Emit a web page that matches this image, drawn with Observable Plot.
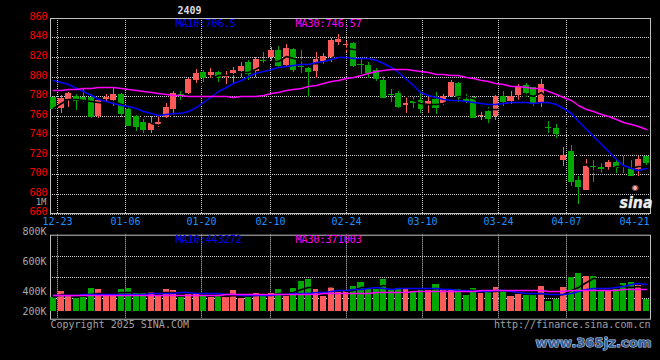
<!DOCTYPE html>
<html><head><meta charset="utf-8">
<script src="https://cdn.jsdelivr.net/npm/d3@7"></script>
<script src="https://cdn.jsdelivr.net/npm/@observablehq/plot@0.6"></script>
<style>
html,body{margin:0;padding:0;background:#000;}
#wrap{position:relative;width:660px;height:360px;background:#000;overflow:hidden;}
#wrap svg{position:absolute;left:0;overflow:visible;}
</style></head><body><div id="wrap"></div>
<script>
// ---- data ----
const opens  = [779.4,768.1,777.1,780.1,779.4,779.4,759.6,777.1,776.0,782.2,766.5,759.6,753.5,745.3,751.4,758.9,766.5,782.2,782.9,796.5,
                804.7,802.0,805.0,800.3,803.4,806.0,815.0,805.7,817.3,819.8,827.2,811.9,828.3,811.1,808.8,805.7,816.0,819.8,835.4,832.7,
                834.0,813.2,811.9,806.7,796.5,782.2,782.9,770.9,774.6,776.0,770.9,776.7,772.6,780.1,793.7,777.0,778.8,760.3,764.8,759.6,
                780.0,775.0,781.1,791.4,789.0,774.3,748.3,747.0,714.6,724.1,693.4,684.0,708.7,707.0,706.7,712.8,708.7,705.7,705.0,718.0];
const highs  = [780.5,781.5,784.0,782.0,787.0,781.9,777.1,781.9,788.6,783.0,769.2,760.7,756.3,759.6,759.6,772.6,785.6,785.6,798.5,807.8,
                806.7,808.5,806.0,805.9,810.1,814.6,816.5,820.2,825.5,830.6,831.3,833.5,828.9,827.2,810.0,825.2,824.0,839.3,843.7,836.8,
                835.8,818.0,814.6,809.0,801.6,787.3,785.0,778.8,778.8,785.6,778.8,784.5,782.5,796.5,794.8,782.2,779.5,764.0,769.2,781.0,
                785.2,785.2,792.4,793.1,789.7,797.5,754.5,751.4,727.6,730.0,698.2,715.3,714.6,711.2,713.9,715.3,718.0,714.6,718.0,718.5];
const lows   = [767.5,762.4,769.2,765.5,774.3,757.3,757.7,774.3,769.9,758.9,749.5,744.6,742.5,742.5,748.0,757.3,758.0,775.5,782.0,793.1,
                794.0,798.0,794.0,792.5,793.7,799.9,796.5,799.9,813.6,815.0,810.0,810.0,804.7,804.0,779.4,798.0,812.0,815.0,832.0,825.5,
                810.0,803.0,798.0,795.0,777.7,774.3,767.5,762.4,767.5,762.4,762.4,761.7,770.9,779.0,774.3,772.6,757.3,755.5,752.8,755.5,
                769.9,772.0,776.0,779.4,769.9,769.2,742.5,736.8,708.4,687.3,669.5,684.0,691.3,701.0,703.6,701.0,701.0,697.5,697.5,709.5];
const closes = [768.1,778.4,783.2,776.0,776.0,759.0,776.0,779.4,782.2,763.0,750.4,749.4,746.6,752.2,753.5,769.2,782.9,781.6,797.5,804.0,
                799.9,805.0,800.0,800.9,806.7,811.2,804.0,818.0,816.7,827.2,811.9,829.3,807.8,810.5,806.0,818.0,821.4,837.5,838.5,833.3,
                811.9,812.6,805.0,798.2,779.4,781.6,769.9,773.3,774.0,767.5,775.3,769.2,780.1,794.8,778.8,776.4,758.9,760.9,757.3,780.0,
                775.0,780.0,789.0,784.5,773.3,792.4,747.7,742.5,719.7,692.4,688.0,707.7,708.1,706.4,712.5,707.0,708.1,698.9,715.3,711.8];
const volumes = [235000,336000,264000,218000,235000,382000,364000,246000,246000,364000,382000,313000,291000,330000,246000,364000,347000,230000,319000,280000,
                 246000,230000,246000,235000,347000,218000,235000,302000,264000,302000,364000,246000,382000,499000,533000,364000,246000,415000,319000,347000,
                 415000,482000,392000,358000,533000,347000,375000,392000,330000,364000,347000,449000,347000,382000,382000,264000,382000,302000,319000,398000,
                 330000,246000,280000,258000,264000,415000,162000,196000,398000,566000,634000,583000,583000,347000,347000,369000,466000,482000,432000,196000];
const ma10 = [795.9,794.4,792.4,788.6,784.8,780.9,777.0,774.6,772.7,771.1,769.5,767.2,764.9,762.6,760.8,761.6,762.2,762.8,765.1,768.9,
              773.7,779.0,784.8,789.1,792.9,796.7,800.1,803.5,805.9,807.8,809.3,810.6,811.9,812.4,813.1,814.5,816.1,818.1,819.8,819.6,
              819.3,819.0,818.8,817.2,813.8,809.9,804.4,797.6,790.8,784.3,781.4,778.8,777.3,776.4,775.6,775.0,774.3,772.9,771.3,771.7,
              772.8,773.6,774.2,773.9,773.3,774.0,773.5,772.2,768.1,762.6,754.7,746.2,738.9,731.1,723.3,715.8,709.7,705.8,704.6,706.5];
const ma30 = [785.8,786.6,787.1,787.5,788.0,788.5,788.9,789.0,789.0,788.1,787.2,786.3,785.4,784.4,783.2,782.0,781.3,780.7,780.4,780.3,
              780.2,780.1,780.0,779.5,779.4,779.5,779.7,780.2,781.5,783.0,784.5,786.0,787.3,788.5,790.0,791.5,793.1,795.0,796.8,798.3,
              799.8,801.7,803.5,805.2,806.7,807.5,807.5,807.3,806.6,805.9,804.4,802.9,802.4,801.8,801.1,799.8,798.3,796.7,795.2,793.7,
              792.1,790.7,789.8,788.9,788.4,787.7,784.9,782.0,779.1,775.6,771.1,766.6,764.2,761.9,759.1,756.5,753.6,751.2,749.2,746.6];
const volMa10 = [262000,262000,265000,270000,278000,280000,281000,281000,282000,282000,283000,285000,288000,292000,298000,303000,305000,306000,306000,305000,
                 303000,300000,294000,287000,278000,268000,262000,263000,267000,271000,276000,285000,292000,300000,305000,308000,312000,330000,340000,350000,
                 358000,368000,388000,392000,375000,370000,376000,380000,382000,382000,380000,374000,364000,358000,352000,342000,337000,336000,338000,345000,
                 347000,328000,308000,302000,300000,290000,282000,281000,284000,300000,334000,360000,374000,377000,380000,392000,410000,455000,465000,443000];
const volMa30 = [258000,258000,259000,259000,259000,260000,260000,260000,260000,260000,261000,261000,261000,261000,261000,262000,262000,262000,262000,263000,
                 264000,266000,270000,274000,277000,278000,278000,279000,280000,280000,281000,281000,282000,283000,285000,287000,289000,291000,293000,295000,
                 298000,301000,305000,309000,313000,316000,319000,321000,323000,325000,327000,329000,332000,334000,336000,337000,338000,340000,342000,345000,
                 346000,347000,347000,346000,344000,341000,339000,338000,338000,340000,342000,344000,345000,346000,348000,352000,358000,364000,369000,371000];

const priceTicks = [860,840,820,800,780,760,740,720,700,680,660];
const dateLabels = ["12-23","01-06","01-20","02-10","02-24","03-10","03-24","04-07","04-21"];
const datePos    = [0.97,10.04,20.17,29.33,39.47,49.6,59.77,68.8,77.87];
const volTickLabels = ["200K","400K","600K","800K"];
const volTickPos    = [0,336000,840000,1344000];
const titleText = "2409";
const priceMaLabels = ["MA10:706.5","MA30:746.57"];
const volMaLabels   = ["MA10:443272","MA30:371003"];

// ---- build ----
const UP = "#ff5a5a", DOWN = "#00a800", GRID = "#d0d0d0", BORDER = "#c0c0c0";
const MONO = "'DejaVu Sans Mono', monospace";
const candles = closes.map((c, i) => ({
  i, open: opens[i], high: highs[i], low: lows[i], close: c, vol: volumes[i],
  ma10: ma10[i], ma30: ma30[i], vma10: volMa10[i], vma30: volMa30[i],
  color: c >= opens[i] ? UP : DOWN
}));
const dotted = {stroke: GRID, strokeDasharray: "1,1"};
const xOf = d => d.i + 0.4;

const main = Plot.plot({
  width: 660, height: 230,
  marginLeft: 50, marginRight: 10, marginTop: 18, marginBottom: 17,
  style: {background: "none", fontFamily: MONO, fontSize: "10px", color: "#ccc"},
  x: {domain: [0, 80], round: true, axis: null},
  y: {domain: [660, 860], round: true, axis: null},
  color: {type: "identity"},
  marks: [
    Plot.ruleY(priceTicks.slice(1, -1), dotted),
    Plot.ruleX(datePos.slice(0, 8), dotted),
    Plot.frame({stroke: BORDER}),
    Plot.ruleY([660], {stroke: "#aaa", dy: 1, strokeDasharray: "1,1"}),
    Plot.axisY({ticks: priceTicks, tickSize: 0, tickPadding: 3, fill: "#ff0000", dy: -2, label: null, tickFormat: d => String(d)}),
    Plot.axisX({ticks: datePos, tickSize: 0, tickPadding: 4, fill: "#1e90ff", label: null, tickFormat: d => dateLabels[datePos.indexOf(d)]}),
    Plot.text(["1M"], {frameAnchor: "bottom-left", lineAnchor: "top", textAnchor: "end", dx: -4, dy: -15, fontSize: 9, fill: "#a8a8a8"}),
    Plot.ruleX(candles, {x: xOf, y1: "low", y2: "high", stroke: "color"}),
    Plot.rect(candles, {x1: d => d.i, x2: d => d.i + 0.8, y1: "open", y2: "close", fill: "color"}),
    Plot.ruleY(candles, {y: "close", x1: d => d.i, x2: d => d.i + 0.8, stroke: "color"}),
    Plot.line(candles, Plot.windowY({k: 5, anchor: "end"}, {x: xOf, y: "close", stroke: "#000"})),
    Plot.line(candles, {x: xOf, y: "ma10", stroke: "#0000ff"}),
    Plot.line(candles, {x: xOf, y: "ma30", stroke: "#ff00ff"}),
    Plot.text(["sina"], {frameAnchor: "bottom-right", lineAnchor: "bottom", textAnchor: "end", dx: 2, dy: -6, fontSize: 15, fontWeight: "bold", fontStyle: "italic", fontFamily: "'DejaVu Sans', sans-serif", fill: "#eeeeee", stroke: "#888", strokeWidth: 0.6, paintOrder: "stroke", className: "sinalogo"}),
    Plot.text(["\u25C9"], {frameAnchor: "bottom-right", lineAnchor: "bottom", textAnchor: "end", dx: -12, dy: -24, fontSize: 8, fontFamily: "'DejaVu Sans', sans-serif", fill: "#ffb0b0"}),
    Plot.text([titleText], {frameAnchor: "top-left", lineAnchor: "top", textAnchor: "start", dx: 127, dy: -11.3, fill: "#dcdcdc", fontWeight: "bold"}),
    Plot.text([priceMaLabels[0]], {frameAnchor: "top-left", lineAnchor: "top", textAnchor: "start", dx: 125, dy: 1.3, fill: "#0000ff"}),
    Plot.text([priceMaLabels[1]], {frameAnchor: "top-left", lineAnchor: "top", textAnchor: "start", dx: 245, dy: 1.3, fill: "#ff00ff"})
  ]
});

const vDomain = [-134400, 1276800];
const vSpan = vDomain[1] - vDomain[0];
const volGrid = [1, 2, 3].map(k => vDomain[0] + vSpan * k / 4);
const volTicks = volTickLabels.map((label, k) => ({label, pos: volTickPos[k]}));

const vol = Plot.plot({
  width: 660, height: 140,
  marginLeft: 50, marginRight: 10, marginTop: 14.7, marginBottom: 41.3,
  style: {background: "none", fontFamily: MONO, fontSize: "10px", color: "#ccc"},
  x: {domain: [0, 80], round: true, axis: null},
  y: {domain: vDomain, round: true, axis: null},
  color: {type: "identity"},
  marks: [
    Plot.ruleY(volGrid, dotted),
    Plot.ruleX(datePos.slice(0, 8), dotted),
    Plot.frame({stroke: BORDER}),
    Plot.rect(candles, {x1: d => d.i, x2: d => d.i + 0.8, y1: 0, y2: "vol", fill: "color"}),
    Plot.line(candles, Plot.windowY({k: 5, anchor: "end"}, {x: xOf, y: "vol", stroke: "#000"})),
    Plot.line(candles, {x: xOf, y: "vma10", stroke: "#0000ff"}),
    Plot.line(candles, {x: xOf, y: "vma30", stroke: "#ff00ff"}),
    Plot.text(volTicks, {y: "pos", text: "label", frameAnchor: "left", textAnchor: "end", dx: -4, fill: "#a8a8a8"}),
    Plot.text([volMaLabels[0]], {frameAnchor: "top-left", lineAnchor: "top", textAnchor: "start", dx: 125, dy: 0.5, fill: "#0000ff"}),
    Plot.text([volMaLabels[1]], {frameAnchor: "top-left", lineAnchor: "top", textAnchor: "start", dx: 245, dy: 0.5, fill: "#ff00ff"}),
    Plot.text(["Copyright 2025 SINA.COM"], {frameAnchor: "bottom-left", lineAnchor: "top", textAnchor: "start", dy: 1.3, fill: "#a0a0a0"}),
    Plot.text(["http://finance.sina.com.cn"], {frameAnchor: "bottom-right", lineAnchor: "top", textAnchor: "end", dy: 1.3, fill: "#a0a0a0"}),
    Plot.text(["www.365jz.com"], {frameAnchor: "bottom-right", lineAnchor: "top", textAnchor: "end", dx: 1, dy: 19, fontSize: 13, fontWeight: "bold", fontFamily: "'DejaVu Sans', sans-serif", fill: "#35609a", stroke: "#c8d4e0", strokeWidth: 1.1, paintOrder: "stroke", className: "wm365"})
  ]
});

main.style.top = "0px";
vol.style.top = "220px";
const wrap = document.getElementById("wrap");
wrap.appendChild(main);
wrap.appendChild(vol);
d3.select(vol).selectAll(".wm365 text").attr("textLength", 116).attr("lengthAdjust", "spacingAndGlyphs");
d3.select(main).selectAll(".sinalogo text").attr("textLength", 33).attr("lengthAdjust", "spacingAndGlyphs");
</script></body></html>
